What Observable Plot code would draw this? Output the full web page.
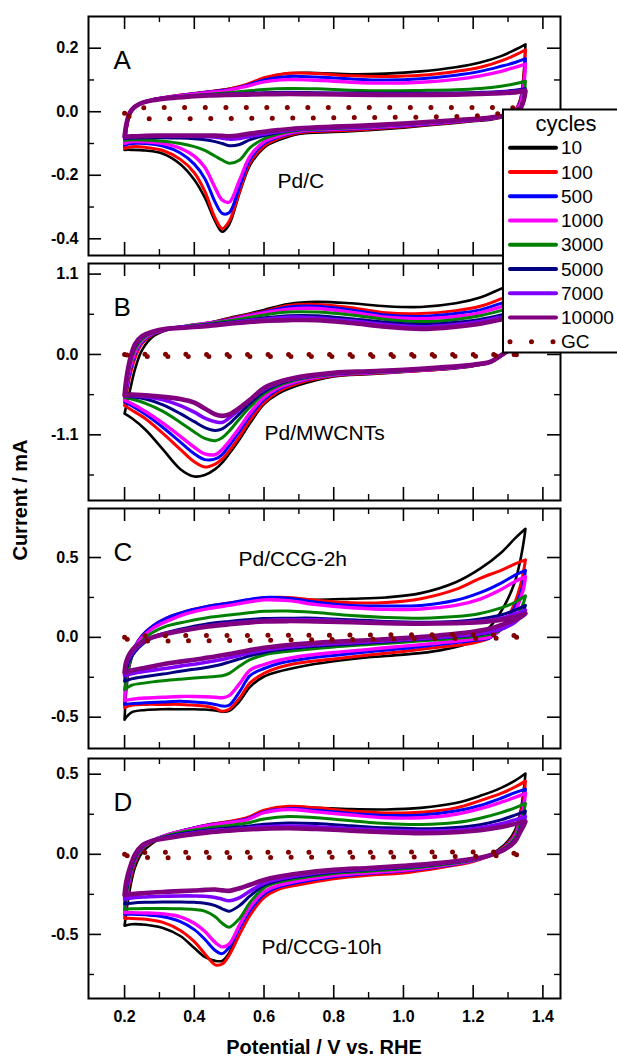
<!DOCTYPE html>
<html><head><meta charset="utf-8">
<script src="https://cdn.jsdelivr.net/npm/d3@7"></script>
<script src="https://cdn.jsdelivr.net/npm/@observablehq/plot@0.6"></script>
<style>
body{margin:0;background:#fff;}
#wrap{position:relative;width:617px;height:1057px;overflow:hidden;font-family:"Liberation Sans",Arial,sans-serif;background:#fff;}
#wrap svg.plotp{position:absolute;left:0;}
#overlay{position:absolute;left:0;top:0;}
</style></head><body><div id="wrap"></div>
<script>
// ---- data ----
const cycles = ["10","100","500","1000","3000","5000","7000","10000"];
const upE = [0.2,0.205,0.215,0.23,0.25,0.28,0.32,0.38,0.44,0.5,0.55,0.6,0.67,0.75,0.85,0.95,1.05,1.15,1.22,1.28,1.32,1.35];
const dnE = [1.35,1.345,1.335,1.32,1.29,1.25,1.2,1.1,1.0,0.9,0.8,0.7,0.64,0.6,0.56,0.53,0.5,0.48,0.46,0.43,0.4,0.36,0.31,0.26,0.22,0.2];
const gcUpE = [0.2,0.22,0.3,0.5,0.7,0.9,1.1,1.25,1.3,1.35];
const gcDnE = [1.35,1.3,1.25,1.1,0.9,0.7,0.5,0.3,0.22,0.2];

// Panel A (Pd/C)
const aUp = [
 [-0.12,-0.06,-0.01,0.015,0.028,0.038,0.046,0.055,0.063,0.072,0.085,0.105,0.121,0.122,0.118,0.12,0.127,0.14,0.155,0.175,0.195,0.212],
 [-0.115,-0.055,-0.008,0.016,0.028,0.038,0.046,0.055,0.063,0.072,0.086,0.107,0.121,0.12,0.113,0.111,0.115,0.127,0.14,0.16,0.178,0.195],
 [-0.105,-0.05,-0.006,0.016,0.028,0.038,0.046,0.054,0.062,0.07,0.083,0.1,0.111,0.109,0.103,0.1,0.104,0.115,0.127,0.143,0.155,0.167],
 [-0.1,-0.047,-0.005,0.016,0.028,0.038,0.045,0.053,0.06,0.068,0.08,0.094,0.101,0.099,0.093,0.09,0.093,0.102,0.113,0.127,0.14,0.15],
 [-0.09,-0.045,-0.004,0.016,0.028,0.037,0.044,0.05,0.055,0.06,0.065,0.07,0.073,0.072,0.068,0.066,0.067,0.069,0.073,0.08,0.088,0.096],
 [-0.085,-0.043,-0.004,0.016,0.028,0.037,0.044,0.049,0.053,0.056,0.058,0.06,0.061,0.06,0.059,0.058,0.058,0.059,0.061,0.064,0.068,0.072],
 [-0.082,-0.042,-0.004,0.016,0.028,0.037,0.043,0.048,0.052,0.054,0.056,0.057,0.058,0.057,0.056,0.055,0.055,0.056,0.058,0.061,0.064,0.068],
 [-0.078,-0.04,-0.003,0.016,0.028,0.036,0.042,0.047,0.051,0.053,0.054,0.055,0.056,0.055,0.054,0.053,0.053,0.054,0.056,0.058,0.061,0.065]
];
const aDn = [
 [0.212,0.12,0.04,0.005,-0.015,-0.025,-0.03,-0.04,-0.05,-0.058,-0.064,-0.07,-0.09,-0.113,-0.168,-0.255,-0.355,-0.378,-0.345,-0.27,-0.214,-0.165,-0.132,-0.122,-0.12,-0.12],
 [0.195,0.11,0.035,0.004,-0.014,-0.023,-0.028,-0.038,-0.047,-0.055,-0.06,-0.066,-0.085,-0.108,-0.16,-0.25,-0.345,-0.368,-0.335,-0.25,-0.192,-0.15,-0.122,-0.112,-0.11,-0.115],
 [0.167,0.09,0.03,0.003,-0.013,-0.022,-0.027,-0.036,-0.045,-0.052,-0.057,-0.063,-0.08,-0.1,-0.15,-0.235,-0.318,-0.32,-0.285,-0.21,-0.165,-0.13,-0.108,-0.1,-0.1,-0.105],
 [0.15,0.08,0.025,0.002,-0.013,-0.021,-0.026,-0.035,-0.043,-0.05,-0.055,-0.061,-0.077,-0.095,-0.14,-0.215,-0.285,-0.278,-0.24,-0.175,-0.14,-0.115,-0.1,-0.095,-0.094,-0.1],
 [0.096,0.05,0.015,0.0,-0.012,-0.02,-0.025,-0.033,-0.041,-0.048,-0.053,-0.058,-0.07,-0.085,-0.113,-0.152,-0.162,-0.152,-0.14,-0.122,-0.11,-0.1,-0.093,-0.089,-0.088,-0.09],
 [0.072,0.04,0.01,-0.002,-0.012,-0.019,-0.024,-0.032,-0.04,-0.046,-0.051,-0.056,-0.066,-0.075,-0.088,-0.103,-0.107,-0.1,-0.094,-0.088,-0.085,-0.083,-0.082,-0.082,-0.083,-0.085],
 [0.068,0.038,0.01,-0.002,-0.012,-0.019,-0.024,-0.032,-0.04,-0.046,-0.05,-0.055,-0.063,-0.07,-0.077,-0.084,-0.086,-0.083,-0.08,-0.078,-0.077,-0.077,-0.077,-0.078,-0.079,-0.082],
 [0.065,0.036,0.01,-0.002,-0.012,-0.018,-0.023,-0.03,-0.037,-0.043,-0.047,-0.052,-0.058,-0.063,-0.069,-0.074,-0.077,-0.076,-0.075,-0.075,-0.075,-0.075,-0.075,-0.076,-0.077,-0.078]
];
// Panel B (Pd/MWCNTs)
const bUp = [
 [-0.81,-0.7,-0.5,-0.2,0.06,0.24,0.33,0.39,0.43,0.5,0.55,0.61,0.69,0.72,0.7,0.66,0.65,0.7,0.78,0.9,0.98,1.05],
 [-0.7,-0.55,-0.3,-0.05,0.15,0.27,0.34,0.39,0.43,0.49,0.54,0.59,0.67,0.685,0.64,0.57,0.56,0.6,0.66,0.76,0.83,0.88],
 [-0.65,-0.5,-0.25,0.0,0.17,0.28,0.34,0.39,0.43,0.48,0.53,0.58,0.65,0.66,0.61,0.54,0.52,0.56,0.61,0.7,0.76,0.81],
 [-0.63,-0.45,-0.2,0.03,0.19,0.29,0.34,0.39,0.43,0.47,0.52,0.57,0.62,0.63,0.58,0.51,0.49,0.52,0.57,0.65,0.71,0.76],
 [-0.585,-0.4,-0.15,0.07,0.21,0.3,0.35,0.39,0.42,0.46,0.5,0.54,0.58,0.58,0.54,0.48,0.45,0.48,0.53,0.6,0.65,0.69],
 [-0.575,-0.38,-0.12,0.1,0.23,0.3,0.35,0.38,0.41,0.44,0.47,0.5,0.53,0.53,0.49,0.44,0.41,0.44,0.48,0.54,0.59,0.63],
 [-0.565,-0.36,-0.1,0.12,0.24,0.31,0.35,0.38,0.4,0.43,0.46,0.48,0.51,0.5,0.46,0.41,0.38,0.41,0.45,0.51,0.55,0.59],
 [-0.56,-0.34,-0.08,0.14,0.25,0.31,0.35,0.37,0.39,0.42,0.44,0.46,0.47,0.47,0.43,0.38,0.35,0.38,0.42,0.48,0.52,0.55]
];
const bDn = [
 [1.05,0.7,0.45,0.2,0.02,-0.1,-0.16,-0.21,-0.24,-0.27,-0.3,-0.42,-0.54,-0.68,-0.94,-1.16,-1.36,-1.48,-1.57,-1.65,-1.67,-1.57,-1.3,-1.03,-0.87,-0.81],
 [0.88,0.6,0.38,0.17,0.02,-0.1,-0.155,-0.205,-0.235,-0.26,-0.29,-0.39,-0.51,-0.66,-0.9,-1.12,-1.32,-1.43,-1.5,-1.54,-1.47,-1.3,-1.08,-0.88,-0.76,-0.7],
 [0.81,0.55,0.35,0.16,0.02,-0.1,-0.15,-0.2,-0.23,-0.255,-0.285,-0.37,-0.48,-0.62,-0.84,-1.05,-1.25,-1.37,-1.43,-1.44,-1.36,-1.2,-1.0,-0.82,-0.7,-0.65],
 [0.76,0.52,0.33,0.15,0.02,-0.1,-0.15,-0.2,-0.23,-0.25,-0.28,-0.36,-0.46,-0.59,-0.8,-1.0,-1.19,-1.3,-1.37,-1.36,-1.27,-1.12,-0.94,-0.78,-0.67,-0.63],
 [0.69,0.48,0.3,0.14,0.02,-0.1,-0.145,-0.195,-0.225,-0.245,-0.27,-0.34,-0.43,-0.54,-0.72,-0.88,-1.05,-1.14,-1.18,-1.15,-1.06,-0.93,-0.78,-0.67,-0.61,-0.585],
 [0.63,0.44,0.28,0.13,0.02,-0.1,-0.145,-0.19,-0.22,-0.24,-0.265,-0.33,-0.41,-0.51,-0.67,-0.81,-0.95,-1.02,-1.04,-1.0,-0.92,-0.81,-0.69,-0.61,-0.58,-0.575],
 [0.59,0.41,0.26,0.12,0.02,-0.1,-0.14,-0.185,-0.215,-0.235,-0.26,-0.32,-0.39,-0.48,-0.62,-0.75,-0.87,-0.93,-0.92,-0.87,-0.79,-0.7,-0.62,-0.58,-0.565,-0.565],
 [0.55,0.38,0.24,0.11,0.02,-0.1,-0.14,-0.18,-0.21,-0.23,-0.25,-0.31,-0.38,-0.46,-0.62,-0.73,-0.82,-0.84,-0.82,-0.74,-0.66,-0.61,-0.58,-0.56,-0.55,-0.56]
];
// Panel C (Pd/CCG-2h)
const cUp = [
 [-0.515,-0.33,-0.17,-0.07,0.005,0.065,0.115,0.16,0.19,0.212,0.228,0.24,0.242,0.236,0.242,0.25,0.277,0.345,0.43,0.53,0.62,0.68],
 [-0.44,-0.28,-0.15,-0.06,0.01,0.07,0.12,0.165,0.195,0.215,0.232,0.248,0.25,0.232,0.216,0.218,0.242,0.3,0.37,0.42,0.46,0.485],
 [-0.42,-0.27,-0.14,-0.055,0.01,0.07,0.12,0.165,0.195,0.215,0.235,0.25,0.245,0.22,0.2,0.196,0.2,0.232,0.28,0.34,0.39,0.42],
 [-0.395,-0.26,-0.14,-0.06,0.0,0.055,0.1,0.15,0.18,0.2,0.22,0.235,0.23,0.205,0.185,0.175,0.178,0.2,0.24,0.3,0.35,0.38],
 [-0.327,-0.25,-0.15,-0.08,-0.02,0.03,0.07,0.1,0.125,0.14,0.152,0.163,0.165,0.155,0.137,0.125,0.12,0.13,0.15,0.185,0.22,0.26],
 [-0.275,-0.2,-0.14,-0.09,-0.045,0.0,0.03,0.06,0.085,0.1,0.11,0.118,0.12,0.12,0.11,0.1,0.095,0.1,0.115,0.14,0.17,0.2],
 [-0.24,-0.17,-0.12,-0.075,-0.035,0.0,0.025,0.05,0.072,0.088,0.098,0.106,0.11,0.11,0.1,0.092,0.088,0.092,0.1,0.12,0.145,0.17],
 [-0.22,-0.15,-0.1,-0.06,-0.03,0.0,0.022,0.048,0.068,0.082,0.092,0.1,0.102,0.1,0.095,0.088,0.085,0.088,0.095,0.11,0.13,0.15]
];
const cDn = [
 [0.68,0.6,0.48,0.35,0.2,0.07,-0.025,-0.083,-0.108,-0.125,-0.15,-0.185,-0.215,-0.245,-0.31,-0.4,-0.46,-0.465,-0.458,-0.452,-0.45,-0.45,-0.45,-0.455,-0.47,-0.515],
 [0.485,0.42,0.32,0.22,0.09,0.0,-0.035,-0.062,-0.088,-0.11,-0.135,-0.16,-0.19,-0.225,-0.285,-0.38,-0.45,-0.462,-0.445,-0.43,-0.425,-0.42,-0.42,-0.42,-0.425,-0.44],
 [0.42,0.35,0.27,0.19,0.08,0.0,-0.02,-0.045,-0.07,-0.09,-0.113,-0.14,-0.165,-0.195,-0.24,-0.34,-0.425,-0.43,-0.42,-0.41,-0.405,-0.4,-0.405,-0.41,-0.415,-0.42],
 [0.38,0.31,0.24,0.16,0.07,0.005,-0.012,-0.035,-0.055,-0.075,-0.095,-0.12,-0.145,-0.17,-0.205,-0.29,-0.365,-0.378,-0.375,-0.372,-0.37,-0.37,-0.375,-0.38,-0.388,-0.395],
 [0.26,0.22,0.17,0.12,0.06,0.02,0.003,-0.015,-0.03,-0.045,-0.06,-0.08,-0.095,-0.11,-0.14,-0.18,-0.225,-0.24,-0.245,-0.25,-0.255,-0.262,-0.272,-0.285,-0.3,-0.327],
 [0.2,0.17,0.14,0.1,0.06,0.03,0.013,-0.005,-0.02,-0.035,-0.048,-0.065,-0.08,-0.095,-0.115,-0.135,-0.155,-0.168,-0.178,-0.19,-0.2,-0.212,-0.23,-0.245,-0.26,-0.275],
 [0.17,0.15,0.125,0.095,0.06,0.033,0.018,0.0,-0.015,-0.028,-0.04,-0.055,-0.068,-0.08,-0.097,-0.113,-0.128,-0.138,-0.146,-0.158,-0.168,-0.18,-0.197,-0.212,-0.228,-0.24],
 [0.15,0.14,0.125,0.11,0.085,0.055,0.035,0.012,-0.005,-0.018,-0.028,-0.042,-0.055,-0.065,-0.08,-0.092,-0.105,-0.112,-0.12,-0.13,-0.14,-0.152,-0.168,-0.19,-0.208,-0.22]
];
// Panel D (Pd/CCG-10h)
const dUp = [
 [-0.446,-0.36,-0.22,-0.08,0.01,0.07,0.115,0.155,0.185,0.205,0.225,0.27,0.295,0.29,0.282,0.28,0.29,0.32,0.365,0.415,0.46,0.504],
 [-0.4,-0.3,-0.17,-0.05,0.03,0.08,0.12,0.155,0.185,0.205,0.228,0.275,0.3,0.29,0.27,0.258,0.262,0.29,0.335,0.38,0.42,0.457],
 [-0.374,-0.28,-0.15,-0.04,0.035,0.085,0.12,0.155,0.183,0.2,0.22,0.265,0.285,0.275,0.255,0.243,0.245,0.27,0.305,0.35,0.385,0.407],
 [-0.364,-0.27,-0.14,-0.035,0.038,0.085,0.12,0.153,0.18,0.198,0.215,0.26,0.28,0.265,0.245,0.228,0.228,0.25,0.285,0.325,0.355,0.38],
 [-0.343,-0.25,-0.13,-0.03,0.04,0.085,0.115,0.145,0.165,0.18,0.195,0.22,0.236,0.228,0.21,0.192,0.186,0.198,0.225,0.26,0.29,0.318],
 [-0.31,-0.23,-0.12,-0.02,0.045,0.085,0.11,0.135,0.152,0.165,0.175,0.188,0.196,0.192,0.178,0.165,0.16,0.168,0.185,0.215,0.245,0.27],
 [-0.28,-0.2,-0.1,-0.01,0.05,0.085,0.105,0.128,0.145,0.155,0.163,0.172,0.177,0.172,0.16,0.15,0.145,0.15,0.165,0.19,0.215,0.236],
 [-0.254,-0.17,-0.085,0.0,0.055,0.085,0.1,0.12,0.137,0.148,0.155,0.16,0.163,0.158,0.148,0.138,0.132,0.138,0.15,0.17,0.19,0.205]
];
const dDn = [
 [0.504,0.4,0.26,0.15,0.06,0.0,-0.04,-0.08,-0.105,-0.125,-0.145,-0.18,-0.21,-0.245,-0.33,-0.45,-0.615,-0.665,-0.665,-0.64,-0.585,-0.51,-0.46,-0.44,-0.437,-0.446],
 [0.457,0.35,0.24,0.13,0.05,-0.005,-0.045,-0.085,-0.116,-0.13,-0.152,-0.19,-0.22,-0.27,-0.38,-0.5,-0.63,-0.685,-0.69,-0.62,-0.545,-0.475,-0.425,-0.405,-0.4,-0.4],
 [0.407,0.32,0.22,0.12,0.045,-0.005,-0.04,-0.078,-0.105,-0.12,-0.14,-0.175,-0.205,-0.25,-0.35,-0.46,-0.58,-0.62,-0.6,-0.53,-0.47,-0.42,-0.39,-0.378,-0.374,-0.374],
 [0.38,0.3,0.21,0.115,0.042,-0.005,-0.038,-0.074,-0.1,-0.115,-0.133,-0.165,-0.195,-0.235,-0.33,-0.44,-0.56,-0.578,-0.55,-0.48,-0.43,-0.39,-0.372,-0.366,-0.364,-0.364],
 [0.318,0.26,0.19,0.105,0.04,-0.005,-0.035,-0.068,-0.09,-0.105,-0.12,-0.15,-0.175,-0.21,-0.3,-0.4,-0.455,-0.43,-0.39,-0.355,-0.345,-0.34,-0.338,-0.338,-0.34,-0.343],
 [0.27,0.22,0.16,0.09,0.035,-0.005,-0.032,-0.062,-0.083,-0.097,-0.112,-0.14,-0.165,-0.195,-0.26,-0.32,-0.355,-0.34,-0.32,-0.305,-0.3,-0.298,-0.298,-0.3,-0.305,-0.31],
 [0.236,0.2,0.15,0.085,0.032,-0.005,-0.03,-0.058,-0.078,-0.092,-0.106,-0.132,-0.155,-0.18,-0.23,-0.27,-0.29,-0.28,-0.27,-0.262,-0.26,-0.26,-0.262,-0.266,-0.272,-0.28],
 [0.205,0.18,0.14,0.08,0.03,-0.005,-0.028,-0.055,-0.072,-0.085,-0.097,-0.12,-0.14,-0.16,-0.19,-0.212,-0.228,-0.225,-0.22,-0.222,-0.226,-0.23,-0.235,-0.242,-0.248,-0.254]
];
// GC (bare glassy carbon) reference, dotted
const gcAUp = [-0.005,0.008,0.013,0.013,0.013,0.013,0.013,0.013,0.013,0.01];
const gcADn = [0.01,0.0,-0.01,-0.016,-0.018,-0.02,-0.021,-0.022,-0.018,-0.005];
const gcBUp = [0.0,0.002,0.002,0.0,0.0,0.0,0.0,0.0,0.0,0.0];
const gcBDn = [0.0,-0.01,-0.02,-0.025,-0.027,-0.027,-0.027,-0.027,-0.02,0.0];
const gcCUp = [0.0,0.008,0.01,0.012,0.013,0.015,0.017,0.017,0.015,0.005];
const gcCDn = [0.005,-0.003,-0.006,-0.008,-0.012,-0.016,-0.02,-0.022,-0.018,-0.005];
const gcDUp = [0.0,0.008,0.012,0.012,0.013,0.013,0.014,0.014,0.01,0.0];
const gcDDn = [0.0,-0.006,-0.01,-0.015,-0.018,-0.019,-0.02,-0.021,-0.015,-0.005];

// tick values
const xMajor = [0.2,0.4,0.6,0.8,1.0,1.2,1.4];
const xMinor = [0.3,0.5,0.7,0.9,1.1,1.3];
const aMajor = [-0.4,-0.2,0,0.2], aMinor = [-0.3,-0.1,0.1];
const bMajor = [-1.1,0,1.1], bMinor = [-1.65,-0.55,0.55];
const cMajor = [-0.5,0,0.5], cMinor = [-0.25,0.25];
const dMajor = [-0.5,0,0.5], dMinor = [-0.75,-0.25,0.25];

// ---- styles / layout ----
const colors = ["#000000","#ff0000","#0000ff","#ff00ff","#008000","#000080","#8000ff","#800080"];
const widths = [2.6,3,3,3.4,3,3,3.6,4.6];
const gcColor = "#800000";
const FW = 472, LEFT = 88, RIGHT = 57;
const xDomain = [0.0965, 1.4505];
const FONT = '"Liberation Sans", Arial, sans-serif';

const panels = [
  {up:aUp, dn:aDn, gu:gcAUp, gd:gcADn, dom:[-0.4526,0.2998], maj:aMajor, min:aMinor, top:16, fh:239, letter:"A", name:"Pd/C", nx:189, ny:171},
  {up:bUp, dn:bDn, gu:gcBUp, gd:gcBDn, dom:[-1.999,1.245], maj:bMajor, min:bMinor, top:263, fh:237, letter:"B", name:"Pd/MWCNTs", nx:176, ny:176},
  {up:cUp, dn:cDn, gu:gcCUp, gd:gcCDn, dom:[-0.696,0.807], maj:cMajor, min:cMinor, top:508, fh:240, letter:"C", name:"Pd/CCG-2h", nx:150, ny:57},
  {up:dUp, dn:dDn, gu:gcDUp, gd:gcDDn, dom:[-0.9,0.598], maj:dMajor, min:dMinor, top:758, fh:240, letter:"D", name:"Pd/CCG-10h", nx:173, ny:195, last:true}
];

const wrap = document.getElementById("wrap");

panels.forEach(p => {
  const mt = 6, mb = p.last ? 40 : 6;
  const marks = [];
  cycles.forEach((c, s) => {
    const pts = upE.map((e, k) => ({E: e, I: p.up[s][k]}))
      .concat(dnE.map((e, k) => ({E: e, I: p.dn[s][k]})));
    marks.push(Plot.line(pts, {x: "E", y: "I", stroke: colors[s], strokeWidth: widths[s], curve: "catmull-rom"}));
  });
  const gc = gcUpE.map((e, k) => ({E: e, I: p.gu[k]})).concat(gcDnE.map((e, k) => ({E: e, I: p.gd[k]})));
  marks.push(Plot.line(gc, {x: "E", y: "I", stroke: gcColor, strokeWidth: 5, strokeDasharray: "0,20.5", strokeLinecap: "round", curve: "catmull-rom"}));
  // inward ticks on all four sides
  const fh = p.fh;
  marks.push(Plot.tickY(p.maj, {y: d => d, insetRight: FW - 13, stroke: "black", strokeWidth: 1.6}));
  marks.push(Plot.tickY(p.maj, {y: d => d, insetLeft: FW - 13, stroke: "black", strokeWidth: 1.6}));
  marks.push(Plot.tickY(p.min, {y: d => d, insetRight: FW - 6, stroke: "black", strokeWidth: 1.4}));
  marks.push(Plot.tickY(p.min, {y: d => d, insetLeft: FW - 6, stroke: "black", strokeWidth: 1.4}));
  marks.push(Plot.tickX(xMajor, {x: d => d, insetTop: fh - 13, stroke: "black", strokeWidth: 1.6}));
  marks.push(Plot.tickX(xMajor, {x: d => d, insetBottom: fh - 13, stroke: "black", strokeWidth: 1.6}));
  marks.push(Plot.tickX(xMinor, {x: d => d, insetTop: fh - 6, stroke: "black", strokeWidth: 1.4}));
  marks.push(Plot.tickX(xMinor, {x: d => d, insetBottom: fh - 6, stroke: "black", strokeWidth: 1.4}));
  marks.push(Plot.frame({stroke: "black", strokeWidth: 2}));
  marks.push(Plot.axisY(p.maj, {anchor: "left", label: null, tickSize: 0, tickPadding: 10, tickFormat: d => d.toFixed(1), fontSize: 16, fontWeight: "bold", fill: "black"}));
  if (p.last) {
    marks.push(Plot.axisX(xMajor, {anchor: "bottom", label: null, tickSize: 0, tickPadding: 12, tickFormat: d => d.toFixed(1), fontSize: 16, fontWeight: "bold", fill: "black"}));
  }
  marks.push(Plot.text([p.letter], {frameAnchor: "top-left", dx: 25, dy: 52, lineAnchor: "bottom", textAnchor: "start", fontSize: 26, fill: "black"}));
  marks.push(Plot.text([p.name], {frameAnchor: "top-left", dx: p.nx, dy: p.ny, lineAnchor: "bottom", textAnchor: "start", fontSize: 21, fill: "black"}));
  const svg = Plot.plot({
    width: 617, height: mt + fh + mb,
    marginTop: mt, marginBottom: mb, marginLeft: LEFT, marginRight: RIGHT,
    x: {domain: xDomain, axis: null, label: null},
    y: {domain: p.dom, axis: null, label: null},
    style: {fontFamily: FONT, background: "transparent", color: "black", overflow: "visible"},
    marks
  });
  svg.classList.add("plotp");
  svg.style.top = (p.top - mt) + "px";
  wrap.appendChild(svg);
});

// overlay: axis titles and legend
const ov = d3.select(wrap).append("svg").attr("id", "overlay")
  .attr("width", 617).attr("height", 1057).style("font-family", FONT);
ov.append("text").attr("transform", "translate(27,500) rotate(-90)")
  .attr("text-anchor", "middle").attr("font-size", 20).attr("font-weight", "bold").text("Current / mA");
ov.append("text").attr("x", 324).attr("y", 1054).attr("text-anchor", "middle")
  .attr("font-size", 20).attr("font-weight", "bold").text("Potential / V vs. RHE");

const lg = ov.append("g").attr("transform", "translate(503,109.5)");
lg.append("rect").attr("width", 140).attr("height", 243).attr("fill", "white").attr("stroke", "black").attr("stroke-width", 2);
lg.append("text").attr("x", 63).attr("y", 21).attr("text-anchor", "middle").attr("font-size", 22).text("cycles");
const entries = cycles.map((c, s) => ({label: c, color: colors[s], dots: false})).concat([{label: "GC", color: gcColor, dots: true}]);
entries.forEach((e, k) => {
  const y = 38.2 + 24.25 * k;
  const ln = lg.append("line").attr("x1", 7).attr("x2", 53).attr("y1", y).attr("y2", y)
    .attr("stroke", e.color).attr("stroke-linecap", "round");
  if (e.dots) ln.attr("stroke-width", 5).attr("stroke-dasharray", "0,21.5");
  else ln.attr("stroke-width", 4);
  lg.append("text").attr("x", 58).attr("y", y).attr("dy", "0.35em").attr("font-size", 19).text(e.label);
});
</script>
</body></html>
